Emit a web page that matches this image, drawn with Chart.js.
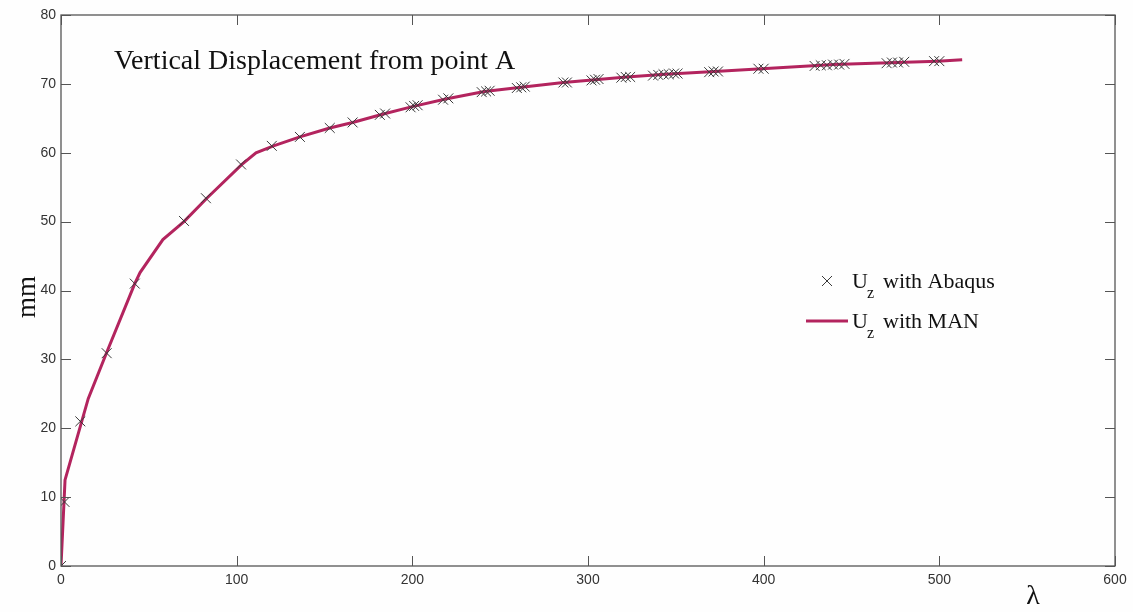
<!DOCTYPE html>
<html>
<head>
<meta charset="utf-8">
<script src="https://cdn.jsdelivr.net/npm/chart.js@4/dist/chart.umd.min.js"></script>
<style>
  body { margin: 0; background: #fefefe; }
  #wrap { width: 1133px; height: 612px; }
</style>
</head>
<body>
<div id="wrap"><canvas id="grafica" width="1133" height="612"></canvas></div>
<script>
// MAN curve (lambda, mm)
const lambdaMAN = [0, 2.3, 15.5, 26, 42, 45, 58, 70, 83, 103, 111, 121, 136, 153, 166, 183, 200, 219, 241, 262, 286, 304, 322, 344, 372, 399, 440, 476, 499, 513];
const uzMAN = [0, 12.5, 24.3, 31, 41, 42.6, 47.4, 50, 53.4, 58.3, 60, 61, 62.3, 63.6, 64.4, 65.6, 66.7, 67.8, 68.9, 69.5, 70.2, 70.6, 71.0, 71.4, 71.8, 72.2, 72.8, 73.1, 73.3, 73.5];

// Abaqus increments (lambda, mm)
const lambdaAbaqus = [0, 2, 11, 26, 42, 70, 82.5, 102.5, 120, 136, 153, 166,
  181.5, 184.5, 199, 201, 203, 217.5, 220.5, 239.5, 242, 244, 259.5, 262, 264,
  286, 288, 302, 304, 306, 319, 321.5, 324, 337, 340, 343, 346, 349, 351,
  369, 371.5, 374, 397, 400, 429, 432.5, 436, 439.5, 443, 446,
  470, 473, 476.5, 480, 497, 500];
const uzAbaqus = [0, 9.3, 21, 30.9, 41, 50.1, 53.4, 58.3, 61, 62.3, 63.6, 64.4,
  65.5, 65.7, 66.6, 66.8, 66.9, 67.7, 67.9, 68.8, 68.9, 69.0, 69.4, 69.5, 69.6,
  70.2, 70.2, 70.5, 70.6, 70.7, 70.9, 71.0, 71.0, 71.2, 71.3, 71.4, 71.4, 71.5, 71.5,
  71.7, 71.8, 71.8, 72.2, 72.2, 72.6, 72.7, 72.7, 72.8, 72.8, 72.9,
  73.0, 73.1, 73.1, 73.2, 73.3, 73.3];

const xTicks = [0, 100, 200, 300, 400, 500, 600];
const yTicks = [0, 10, 20, 30, 40, 50, 60, 70, 80];

const colorLinea = '#b3245e';
const colorMarca = '#3a3a3a';
const serif = '"Liberation Serif", "DejaVu Serif", serif';
const sans = '"Liberation Sans", Arial, sans-serif';

const adornos = {
  id: 'adornos',
  beforeDraw(chart) {
    const ctx = chart.ctx;
    ctx.save();
    ctx.fillStyle = '#fefefe';
    ctx.fillRect(0, 0, chart.width, chart.height);
    ctx.restore();
  },
  afterDraw(chart) {
    const ctx = chart.ctx;
    const a = chart.chartArea;
    const sx = chart.scales.x, sy = chart.scales.y;
    ctx.save();
    // box
    ctx.strokeStyle = '#555';
    ctx.lineWidth = 1.3;
    ctx.strokeRect(a.left, a.top, a.right - a.left, a.bottom - a.top);
    // inward ticks on all sides
    ctx.lineWidth = 1;
    ctx.beginPath();
    xTicks.forEach(v => {
      const p = Math.round(sx.getPixelForValue(v)) + 0.5;
      ctx.moveTo(p, a.bottom); ctx.lineTo(p, a.bottom - 10);
      ctx.moveTo(p, a.top); ctx.lineTo(p, a.top + 10);
    });
    yTicks.forEach(v => {
      const p = Math.round(sy.getPixelForValue(v)) + 0.5;
      ctx.moveTo(a.left, p); ctx.lineTo(a.left + 10, p);
      ctx.moveTo(a.right, p); ctx.lineTo(a.right - 10, p);
    });
    ctx.stroke();

    // title inside plot
    ctx.fillStyle = '#111';
    ctx.textBaseline = 'alphabetic';
    ctx.textAlign = 'left';
    ctx.font = '28px ' + serif;
    ctx.fillText('Vertical Displacement from point A', 114, 69);

    // axis titles
    ctx.font = '28px ' + serif;
    ctx.textAlign = 'center';
    ctx.fillText('\u03bb', 1033, 604);
    ctx.save();
    ctx.translate(35, 297);
    ctx.rotate(-Math.PI / 2);
    ctx.font = '27px ' + serif;
    ctx.fillText('mm', 0, 0);
    ctx.restore();

    // legend
    const ds = chart.data.datasets;
    ctx.strokeStyle = ds[0].borderColor;
    ctx.lineWidth = 1;
    ctx.beginPath();
    ctx.moveTo(822, 276); ctx.lineTo(832, 286);
    ctx.moveTo(832, 276); ctx.lineTo(822, 286);
    ctx.stroke();
    ctx.strokeStyle = ds[1].borderColor;
    ctx.lineWidth = 3;
    ctx.beginPath();
    ctx.moveTo(806, 321); ctx.lineTo(848, 321);
    ctx.stroke();

    ctx.fillStyle = '#111';
    ctx.textAlign = 'left';
    const etiqueta = (y, resto) => {
      ctx.font = '22px ' + serif;
      ctx.fillText('U', 852, y);
      ctx.font = '16px ' + serif;
      ctx.fillText('z', 867, y + 10);
      ctx.font = '22px ' + serif;
      ctx.fillText(resto, 883, y);
    };
    etiqueta(288, 'with Abaqus');
    etiqueta(328, 'with MAN');
    ctx.restore();
  }
};

new Chart(document.getElementById('grafica'), {
  type: 'scatter',
  data: {
    datasets: [{
      label: 'Uz with Abaqus',
      data: lambdaAbaqus.map((x, i) => ({ x: x, y: uzAbaqus[i] })),
      pointStyle: 'crossRot',
      pointRadius: 7,
      borderColor: colorMarca,
      backgroundColor: colorMarca,
      borderWidth: 1,
      showLine: false
    }, {
      label: 'Uz with MAN',
      data: lambdaMAN.map((x, i) => ({ x: x, y: uzMAN[i] })),
      showLine: true,
      pointRadius: 0,
      borderColor: colorLinea,
      backgroundColor: colorLinea,
      borderWidth: 3,
      tension: 0
    }]
  },
  options: {
    responsive: false,
    animation: false,
    layout: { padding: { left: 0, top: 15, right: 18, bottom: 0 } },
    plugins: { legend: { display: false }, tooltip: { enabled: false } },
    scales: {
      x: {
        type: 'linear',
        min: 0, max: 600,
        afterBuildTicks: s => { s.ticks = xTicks.map(v => ({ value: v })); },
        afterFit: s => { s.height = 46; },
        grid: { display: false, drawTicks: false },
        border: { display: false },
        ticks: { color: '#333', padding: 6, font: { family: sans, size: 14 } }
      },
      y: {
        min: 0, max: 80,
        afterBuildTicks: s => { s.ticks = yTicks.map(v => ({ value: v })); },
        afterFit: s => { s.width = 61; },
        grid: { display: false, drawTicks: false },
        border: { display: false },
        ticks: { color: '#333', padding: 5, font: { family: sans, size: 14 } }
      }
    }
  },
  plugins: [adornos]
});
</script>
</body>
</html>
